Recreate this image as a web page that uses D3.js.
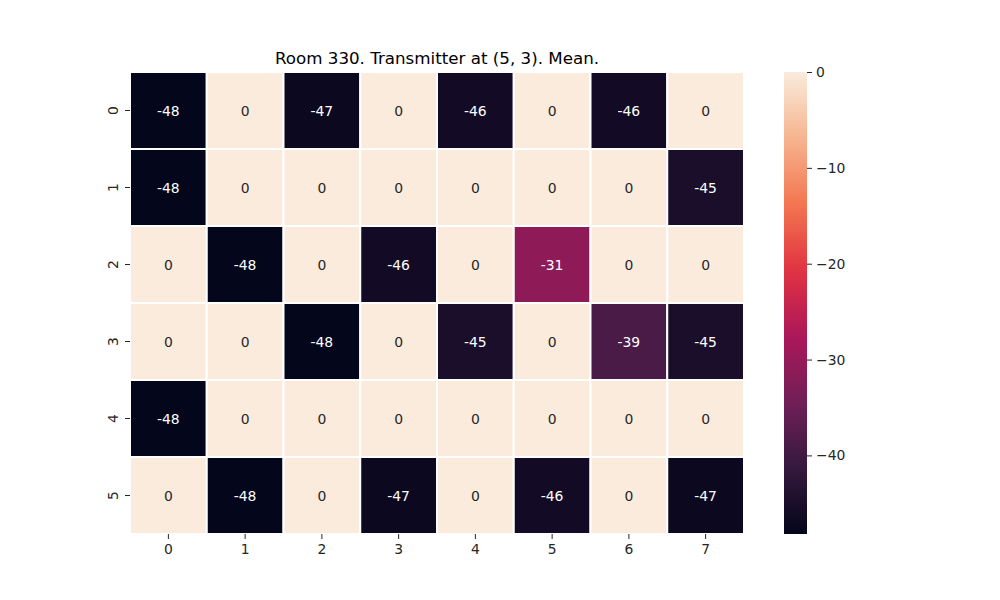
<!DOCTYPE html>
<html><head><meta charset="utf-8">
<script src="https://cdn.jsdelivr.net/npm/d3@7"></script>
<style>body{margin:0;background:#fff;} text{font-family:"DejaVu Sans",sans-serif;}</style>
</head><body>
<svg id="c" width="1000" height="600"></svg>
<script>
const rows = [0,1,2,3,4,5];
const cols = [0,1,2,3,4,5,6,7];
const values = [
  [-48,0,-47,0,-46,0,-46,0],
  [-48,0,0,0,0,0,0,-45],
  [0,-48,0,-46,0,-31,0,0],
  [0,0,-48,0,-45,0,-39,-45],
  [-48,0,0,0,0,0,0,0],
  [0,-48,0,-47,0,-46,0,-47]
];
const cbTicks = [0,-10,-20,-30,-40];
const title = "Room 330. Transmitter at (5, 3). Mean.";
const vmin = -48.2, vmax = 0;

const rocketStops = ["#03051a","#35193e","#701f57","#ad1759","#e13342","#f37651","#f6b48f","#faebdd"];
const rocket = d3.piecewise(d3.interpolateRgb, rocketStops);
const color = d3.scaleSequential(rocket).domain([vmin, vmax]);

const svg = d3.select("#c");
const L=130, R=744, T=72, B=534;
const x = d3.scaleBand().domain(cols).range([L,R]);
const y = d3.scaleBand().domain(rows).range([T,B]);

const cells = [];
rows.forEach(r=>cols.forEach(c=>cells.push({r,c,v:values[r][c]})));

svg.append("g").selectAll("rect").data(cells).join("rect")
  .attr("x",d=>x(d.c)).attr("y",d=>y(d.r))
  .attr("width",x.bandwidth()).attr("height",y.bandwidth())
  .attr("fill",d=>color(d.v)).attr("stroke","#fff").attr("stroke-width",2);

svg.append("g").selectAll("text").data(cells).join("text")
  .attr("x",d=>x(d.c)+x.bandwidth()/2).attr("y",d=>y(d.r)+y.bandwidth()/2)
  .attr("text-anchor","middle").attr("dominant-baseline","central")
  .attr("font-size","13.9px")
  .attr("fill",d=>d.v < -24 ? "#ffffff" : "#262626")
  .text(d=>d.v);

// axes
const xa = svg.append("g").attr("transform",`translate(0,${B})`)
  .call(d3.axisBottom(x).tickSize(5).tickPadding(5));
xa.select(".domain").remove();
xa.selectAll("text").attr("font-size","13.9px").attr("fill","#262626").style("font-family","DejaVu Sans");
xa.selectAll("line").attr("stroke","#262626");

const ya = svg.append("g").attr("transform",`translate(${L},0)`)
  .call(d3.axisLeft(y).tickSize(5).tickPadding(5));
ya.select(".domain").remove();
ya.selectAll("line").attr("stroke","#262626");
ya.selectAll("text").attr("font-size","13.9px").attr("fill","#262626").style("font-family","DejaVu Sans")
  .attr("text-anchor","middle").attr("dy",null).attr("dominant-baseline","central")
  .attr("x",0)
  .attr("transform","translate(-17,0) rotate(-90)");

svg.append("text").attr("x",(L+R)/2).attr("y",64).attr("text-anchor","middle")
  .attr("font-size","16.7px").attr("fill","#000").text(title);

// colorbar
const cbL=784, cbW=23;
const cy = d3.scaleLinear().domain([vmin,vmax]).range([B,T]);
const defs = svg.append("defs");
const grad = defs.append("linearGradient").attr("id","g").attr("x1",0).attr("y1",1).attr("x2",0).attr("y2",0);
d3.range(0,1.0001,0.02).forEach(t=>{
  grad.append("stop").attr("offset",t).attr("stop-color",rocket(t));
});
svg.append("rect").attr("x",cbL).attr("y",T).attr("width",cbW).attr("height",B-T).attr("fill","url(#g)");
const ca = svg.append("g").attr("transform",`translate(${cbL+cbW},0)`)
  .call(d3.axisRight(cy).tickValues(cbTicks).tickSize(5).tickPadding(4).tickFormat(d=>d===0?"0":"\u2212"+Math.abs(d)));
ca.select(".domain").remove();
ca.selectAll("line").attr("stroke","#262626");
ca.selectAll("text").attr("font-size","13.9px").attr("fill","#262626").style("font-family","DejaVu Sans");
</script>
</body></html>
